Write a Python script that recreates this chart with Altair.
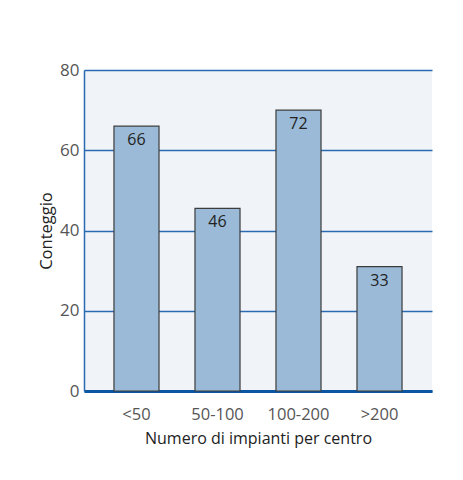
import altair as alt
import pandas as pd

categories = ["<50", "50-100", "100-200", ">200"]
bar_heights = [66, 45.5, 70, 31]
label_texts = ["66", "46", "72", "33"]

df = pd.DataFrame({"cat": categories, "val": bar_heights, "lab": label_texts})

x = alt.X("cat:N", sort=categories,
          scale=alt.Scale(paddingInner=0.444, paddingOuter=0.37),
          axis=alt.Axis(title="Numero di impianti per centro", labelAngle=0,
                        ticks=False, labelPadding=15, titlePadding=8,
                        domainColor="#0b56a3", domainWidth=3,
                        labelFontSize=16.5, labelColor="#555555", labelFont="Open Sans",
                        labelFontWeight="normal",
                        titleFontSize=16, titleColor="#222222", titleFont="Open Sans",
                        titleFontWeight="normal", grid=False))

y = alt.Y("val:Q", scale=alt.Scale(domain=[0, 80]),
          axis=alt.Axis(title="Conteggio", values=[0, 20, 40, 60, 80], ticks=False,
                        labelPadding=5, titlePadding=5,
                        domainColor="#2a6ab3", domainWidth=1.5,
                        gridColor="#2a6ab3", gridWidth=1.5,
                        labelFontSize=17, labelColor="#555555", labelFont="Open Sans",
                        titleFontSize=16.5, titleColor="#222222", titleFont="Open Sans",
                        titleFontWeight="normal"))

bars = alt.Chart(df).mark_bar(fill="#9abad7", stroke="#3c3c3c", strokeWidth=1.2).encode(x=x, y=y)
labels = alt.Chart(df).mark_text(baseline="top", dy=6, fontSize=16, color="#222222",
                                 font="Open Sans", fontWeight=500).encode(
    x=alt.X("cat:N", sort=categories), y="val:Q", text="lab:N")

chart = (bars + labels).properties(
    width=348, height=321,
    autosize=alt.AutoSizeParams(type="none"),
    padding={"left": 76, "top": 62, "right": 23, "bottom": 80},
    background="white",
).configure_view(fill="#f0f4f9", stroke=None)

chart.save("out.html", embed_options={"renderer": "svg", "actions": False})
